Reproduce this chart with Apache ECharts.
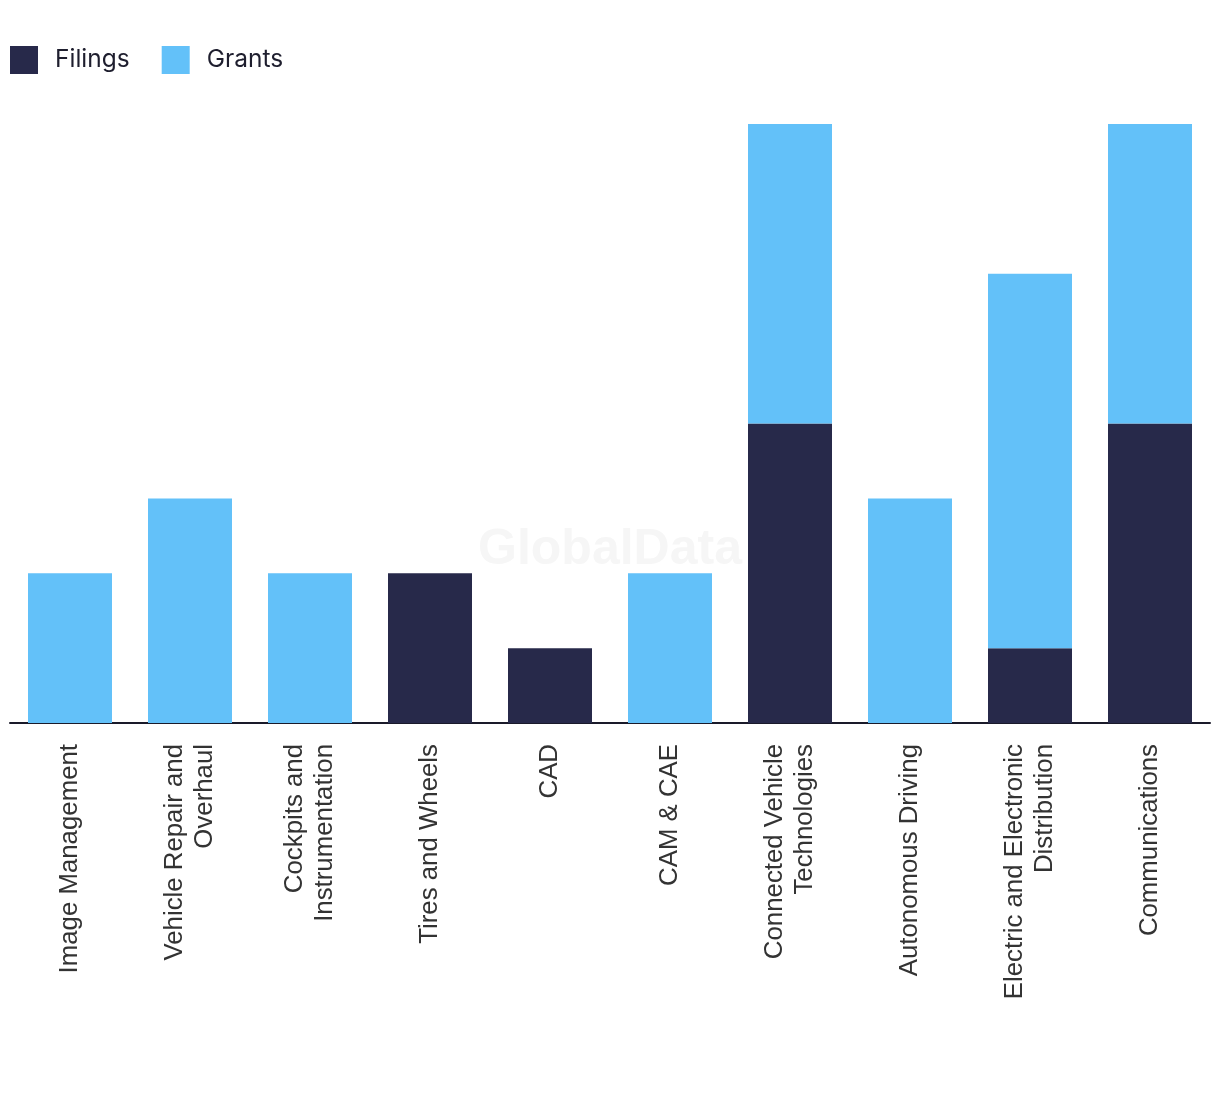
<!DOCTYPE html>
<html>
<head>
<meta charset="utf-8">
<script src="https://cdn.jsdelivr.net/npm/echarts@6/dist/echarts.min.js"></script>
<style>
html,body{margin:0;padding:0;background:#fff;}
#chart{width:1220px;height:1094px;}
</style>
</head>
<body>
<div id="chart"></div>
<script>
const categories = ['Image Management','Vehicle Repair and\nOverhaul','Cockpits and\nInstrumentation','Tires and Wheels','CAD','CAM & CAE','Connected Vehicle\nTechnologies','Autonomous Driving','Electric and Electronic\nDistribution','Communications'];
const filings = [0,0,0,2,1,0,4,0,1,4];
const grants = [2,3,2,0,0,2,4,3,5,4];

const chart = echarts.init(document.getElementById('chart'));
chart.setOption({
  backgroundColor: '#fff',
  animation: false,
  graphic: [{
    type: 'text', left: 'center', top: 525, z: 0,
    style: { text: 'GlobalData', fontSize: 50, fontWeight: 'bold', fontFamily: 'Liberation Sans', fill: '#f6f6f6' }
  }],
  legend: {
    left: 10, top: 46, padding: 0, itemWidth: 28, itemHeight: 28, itemGap: 32,
    icon: 'rect',
    textStyle: { fontSize: 24.5, color: '#1e1e2e', fontFamily: 'Inter', padding: [0,0,0,12] },
    data: ['Filings','Grants']
  },
  grid: { left: 10, right: 10, top: 124, bottom: 371, containLabel: false },
  xAxis: {
    type: 'category', data: categories,
    axisLine: { lineStyle: { color: '#1a1a2a', width: 2 } },
    axisTick: { show: false },
    axisLabel: { rotate: 90, interval: 0, fontSize: 25.8, lineHeight: 30, color: '#333', fontFamily: 'Liberation Sans', margin: 21 }
  },
  yAxis: { type: 'value', min: 0, max: 8, show: false, splitLine: { show: false } },
  series: [
    { name: 'Filings', type: 'bar', stack: 'a', data: filings, barWidth: 84, itemStyle: { color: '#27294a' } },
    { name: 'Grants', type: 'bar', stack: 'a', data: grants, barWidth: 84, itemStyle: { color: '#63c1f9' } }
  ]
});
</script>
</body>
</html>
